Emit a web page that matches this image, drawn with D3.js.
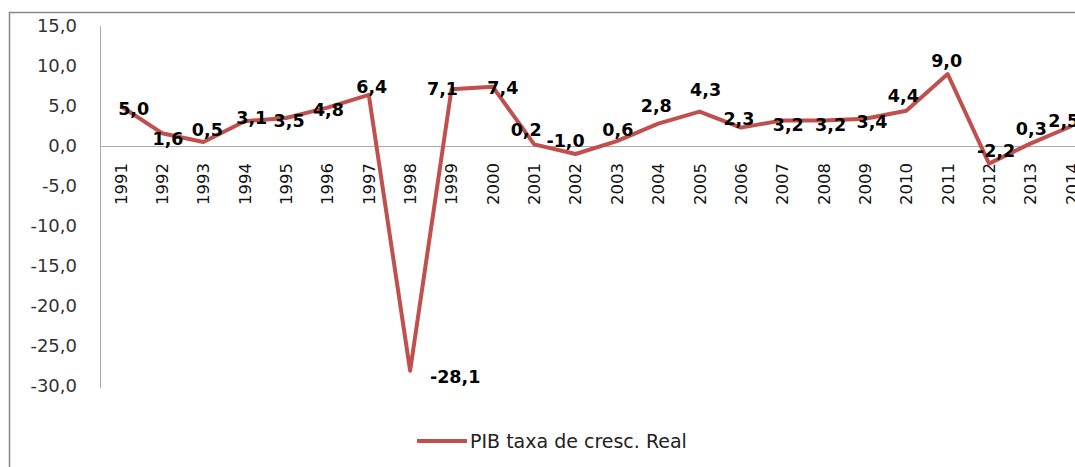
<!DOCTYPE html>
<html>
  <head>
    <meta charset="utf-8">
    <title>PIB taxa de cresc. Real</title>
    <script src="https://d3js.org/d3.v7.min.js"></script>
    <style>
      body { margin: 0; background: #fff; }
      text { font-family: "DejaVu Sans", sans-serif; }
    </style>
  </head>
  <body>
    <div id="chart"></div>
    <script>
      // data
      const years = ["1991", "1992", "1993", "1994", "1995", "1996", "1997", "1998", "1999", "2000", "2001", "2002",
        "2003", "2004", "2005", "2006", "2007", "2008", "2009", "2010", "2011", "2012", "2013", "2014"];
      const growth = [5.0, 1.6, 0.5, 3.1, 3.5, 4.8, 6.4, -28.1, 7.1, 7.4, 0.2, -1.0,
        0.6, 2.8, 4.3, 2.3, 3.2, 3.2, 3.4, 4.4, 9.0, -2.2, 0.3, 2.5];
      const yTicks = [15, 10, 5, 0, -5, -10, -15, -20, -25, -30];
      const seriesName = "PIB taxa de cresc. Real";
      // where each value label sits relative to its point (as placed in the original)
      const labelShift = [[13, 3], [6, 5], [4, -12], [7, -4], [3, 3], [1, 2], [3, -8], [45, 6], [-9, -1], [10, 1],
        [-8, -15], [-10, -13], [1, -12], [-2, -18], [6, -22], [-2, -9], [6, 4], [7, 4], [7, 3], [-3, -15],
        [-1, -13], [7, -13], [1, -15], [-8, -5]];

      const width = 1075, height = 467;
      const svg = d3.select("#chart").append("svg")
        .attr("width", width)
        .attr("height", height);

      // outer frame (runs past the right and bottom edges)
      svg.append("rect")
        .attr("x", 9.5).attr("y", 12.5)
        .attr("width", 1200).attr("height", 600)
        .attr("fill", "none")
        .attr("stroke", "#888")
        .attr("stroke-width", 1.5);

      const step = 41.35;
      const x = d3.scaleBand()
        .domain(years)
        .range([100, 100 + step * years.length]);
      const y = d3.scaleLinear()
        .domain([-30, 15])
        .range([386, 26]);
      const cx = d => x(d) + x.bandwidth() / 2;
      const fmt = v => (v < 0 ? "-" : "") + d3.format(".1f")(Math.abs(v)).replace(".", ",");

      // y axis
      const yAxis = svg.append("g")
        .attr("transform", "translate(100,0)")
        .call(d3.axisLeft(y).tickValues(yTicks).tickSize(0).tickPadding(23).tickFormat(fmt));
      yAxis.select(".domain").remove();
      yAxis.selectAll("text")
        .attr("fill", "#333")
        .style("font-size", "18px")
        .style("font-family", "DejaVu Sans");
      svg.append("line")
        .attr("x1", 100.5).attr("x2", 100.5)
        .attr("y1", y(15)).attr("y2", y(-30) + 2)
        .attr("stroke", "#aaa").attr("stroke-width", 1);

      // zero line
      svg.append("line")
        .attr("x1", 100).attr("x2", width + 50)
        .attr("y1", y(0) + 0.5).attr("y2", y(0) + 0.5)
        .attr("stroke", "#aaa").attr("stroke-width", 1);

      // year labels
      svg.selectAll(".year")
        .data(years)
        .enter().append("text")
          .classed("year", true)
          .attr("transform", d => "translate(" + cx(d) + "," + (y(0) + 17) + ") rotate(-90)")
          .attr("text-anchor", "end")
          .attr("dy", "0.36em")
          .attr("fill", "#111")
          .style("font-size", "16.5px")
          .text(d => d);

      // the line
      const line = d3.line()
        .x((d, i) => cx(years[i]))
        .y(d => y(d));
      svg.append("path")
        .datum(growth)
        .attr("d", line)
        .attr("fill", "none")
        .attr("stroke", "#C0504D")
        .attr("stroke-width", 4)
        .attr("stroke-linejoin", "round");

      // value labels
      svg.selectAll(".value")
        .data(growth)
        .enter().append("text")
          .classed("value", true)
          .attr("x", (d, i) => cx(years[i]) + labelShift[i][0])
          .attr("y", (d, i) => y(d) + labelShift[i][1])
          .attr("text-anchor", "middle")
          .attr("dy", "0.36em")
          .attr("fill", "#000")
          .style("font-size", "17.5px")
          .style("font-weight", "bold")
          .text(d => fmt(d));

      // legend
      const legend = svg.append("g")
        .attr("transform", "translate(417,441)");
      legend.append("line")
        .attr("x1", 0).attr("x2", 50)
        .attr("stroke", "#C0504D")
        .attr("stroke-width", 4);
      legend.append("text")
        .attr("x", 53)
        .attr("dy", "0.36em")
        .attr("fill", "#222")
        .style("font-size", "19px")
        .text(seriesName);
    </script>
  </body>
</html>
